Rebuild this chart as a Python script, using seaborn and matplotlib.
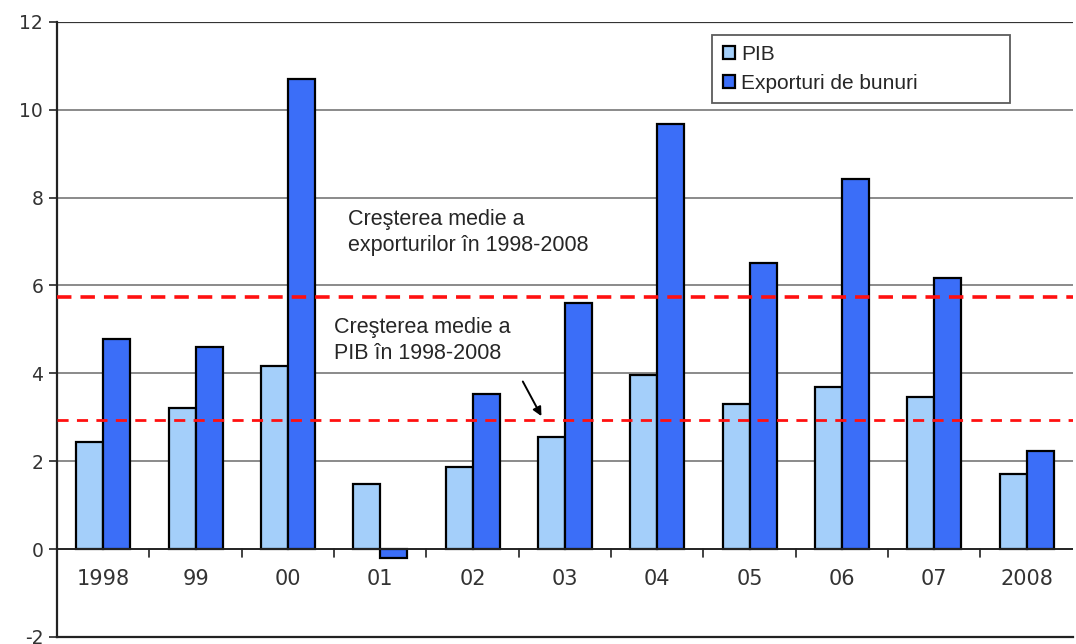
import matplotlib
matplotlib.use("Agg")
import matplotlib.pyplot as plt
import seaborn as sns
import pandas as pd
from matplotlib.patches import Patch

years = ["1998", "99", "00", "01", "02", "03", "04", "05", "06", "07", "2008"]
pib = [2.44, 3.21, 4.17, 1.48, 1.87, 2.55, 3.96, 3.30, 3.69, 3.46, 1.71]
exporturi = [4.78, 4.60, 10.70, -0.20, 3.53, 5.60, 9.68, 6.51, 8.43, 6.17, 2.23]
series_names = ["PIB", "Exporturi de bunuri"]
avg_export = 5.74
avg_pib = 2.94
yticks = [-2, 0, 2, 4, 6, 8, 10, 12]

df = pd.DataFrame({
    "an": years * 2,
    "valoare": pib + exporturi,
    "serie": [series_names[0]] * len(years) + [series_names[1]] * len(years),
})

sns.set_style("white")
fig = plt.figure(figsize=(10.76, 6.44), dpi=100)
ax = fig.add_axes([0.053, 0.011, 0.944, 0.955])

colors = ["#A4CFFA", "#3B6EF8"]
sns.barplot(data=df, x="an", y="valoare", hue="serie", order=years,
            hue_order=series_names, palette=colors, saturation=1, width=0.585,
            edgecolor="black", linewidth=1.6, ax=ax, legend=False, zorder=3)

ax.set_ylim(-2, 12)
ax.set_xlim(-0.5, len(years) - 0.5)
ax.set_yticks(yticks)
ax.set_yticklabels([str(t) for t in yticks], fontsize=13.5, color="#333333")
for y in yticks[2:-1]:
    ax.axhline(y, color="#777777", linewidth=1.2, zorder=1)
ax.axhline(12, color="#333333", linewidth=1.6, zorder=1)
ax.axhline(0, color="#222222", linewidth=1.4, zorder=4)

ax.axhline(avg_export, color="#FF1010", linestyle=(0, (4, 2.5)), linewidth=2.6, zorder=5)
ax.axhline(avg_pib, color="#FF1010", linestyle=(0, (4, 3)), linewidth=2.0, zorder=5)

ax.set_xlabel("")
ax.set_ylabel("")
ax.set_xticks([])
# year labels under the zero line
for i, lab in enumerate(years):
    ax.text(i, -0.68, lab, ha="center", va="center", fontsize=15, color="#333333")
# small ticks on zero line between groups
for i in range(len(years) - 1):
    ax.plot([i + 0.5, i + 0.5], [0, -0.17], color="#222222", linewidth=1.2, zorder=4)

ax.tick_params(axis="y", direction="out", length=6, width=1.2, left=True, pad=4)
for s in ["left", "bottom"]:
    ax.spines[s].set_color("#222222")
    ax.spines[s].set_linewidth(1.6)
ax.spines["top"].set_visible(False)
ax.spines["right"].set_visible(False)

ax.text(2.65, 7.2, "Creşterea medie a\nexporturilor în 1998-2008", fontsize=15.5,
        family="Liberation Sans", va="center", ha="left", linespacing=1.3, zorder=6)
ax.text(2.50, 4.75, "Creşterea medie a\nPIB în 1998-2008", fontsize=15.5,
        family="Liberation Sans", va="center", ha="left", linespacing=1.35, zorder=6)
ax.annotate("", xy=(4.76, 2.97), xytext=(4.53, 3.87),
            arrowprops=dict(arrowstyle="-|>", color="black", lw=1.4, mutation_scale=13), zorder=6)

handles = [Patch(facecolor=colors[0], edgecolor="black", linewidth=1.6),
           Patch(facecolor=colors[1], edgecolor="black", linewidth=1.6)]
leg = ax.legend(handles, series_names, loc="upper left",
                bbox_to_anchor=(0.645, 0.979, 0.293, 0.0), mode="expand",
                frameon=True, fancybox=False, edgecolor="#333333", fontsize=15,
                handlelength=0.6, handleheight=0.6, handletextpad=0.3,
                borderpad=0.5, labelspacing=0.45, borderaxespad=0)
leg.get_frame().set_linewidth(1.3)
for t in leg.get_texts():
    t.set_family("Liberation Sans")
leg.set_zorder(7)

fig.savefig("out.png", dpi=100)
